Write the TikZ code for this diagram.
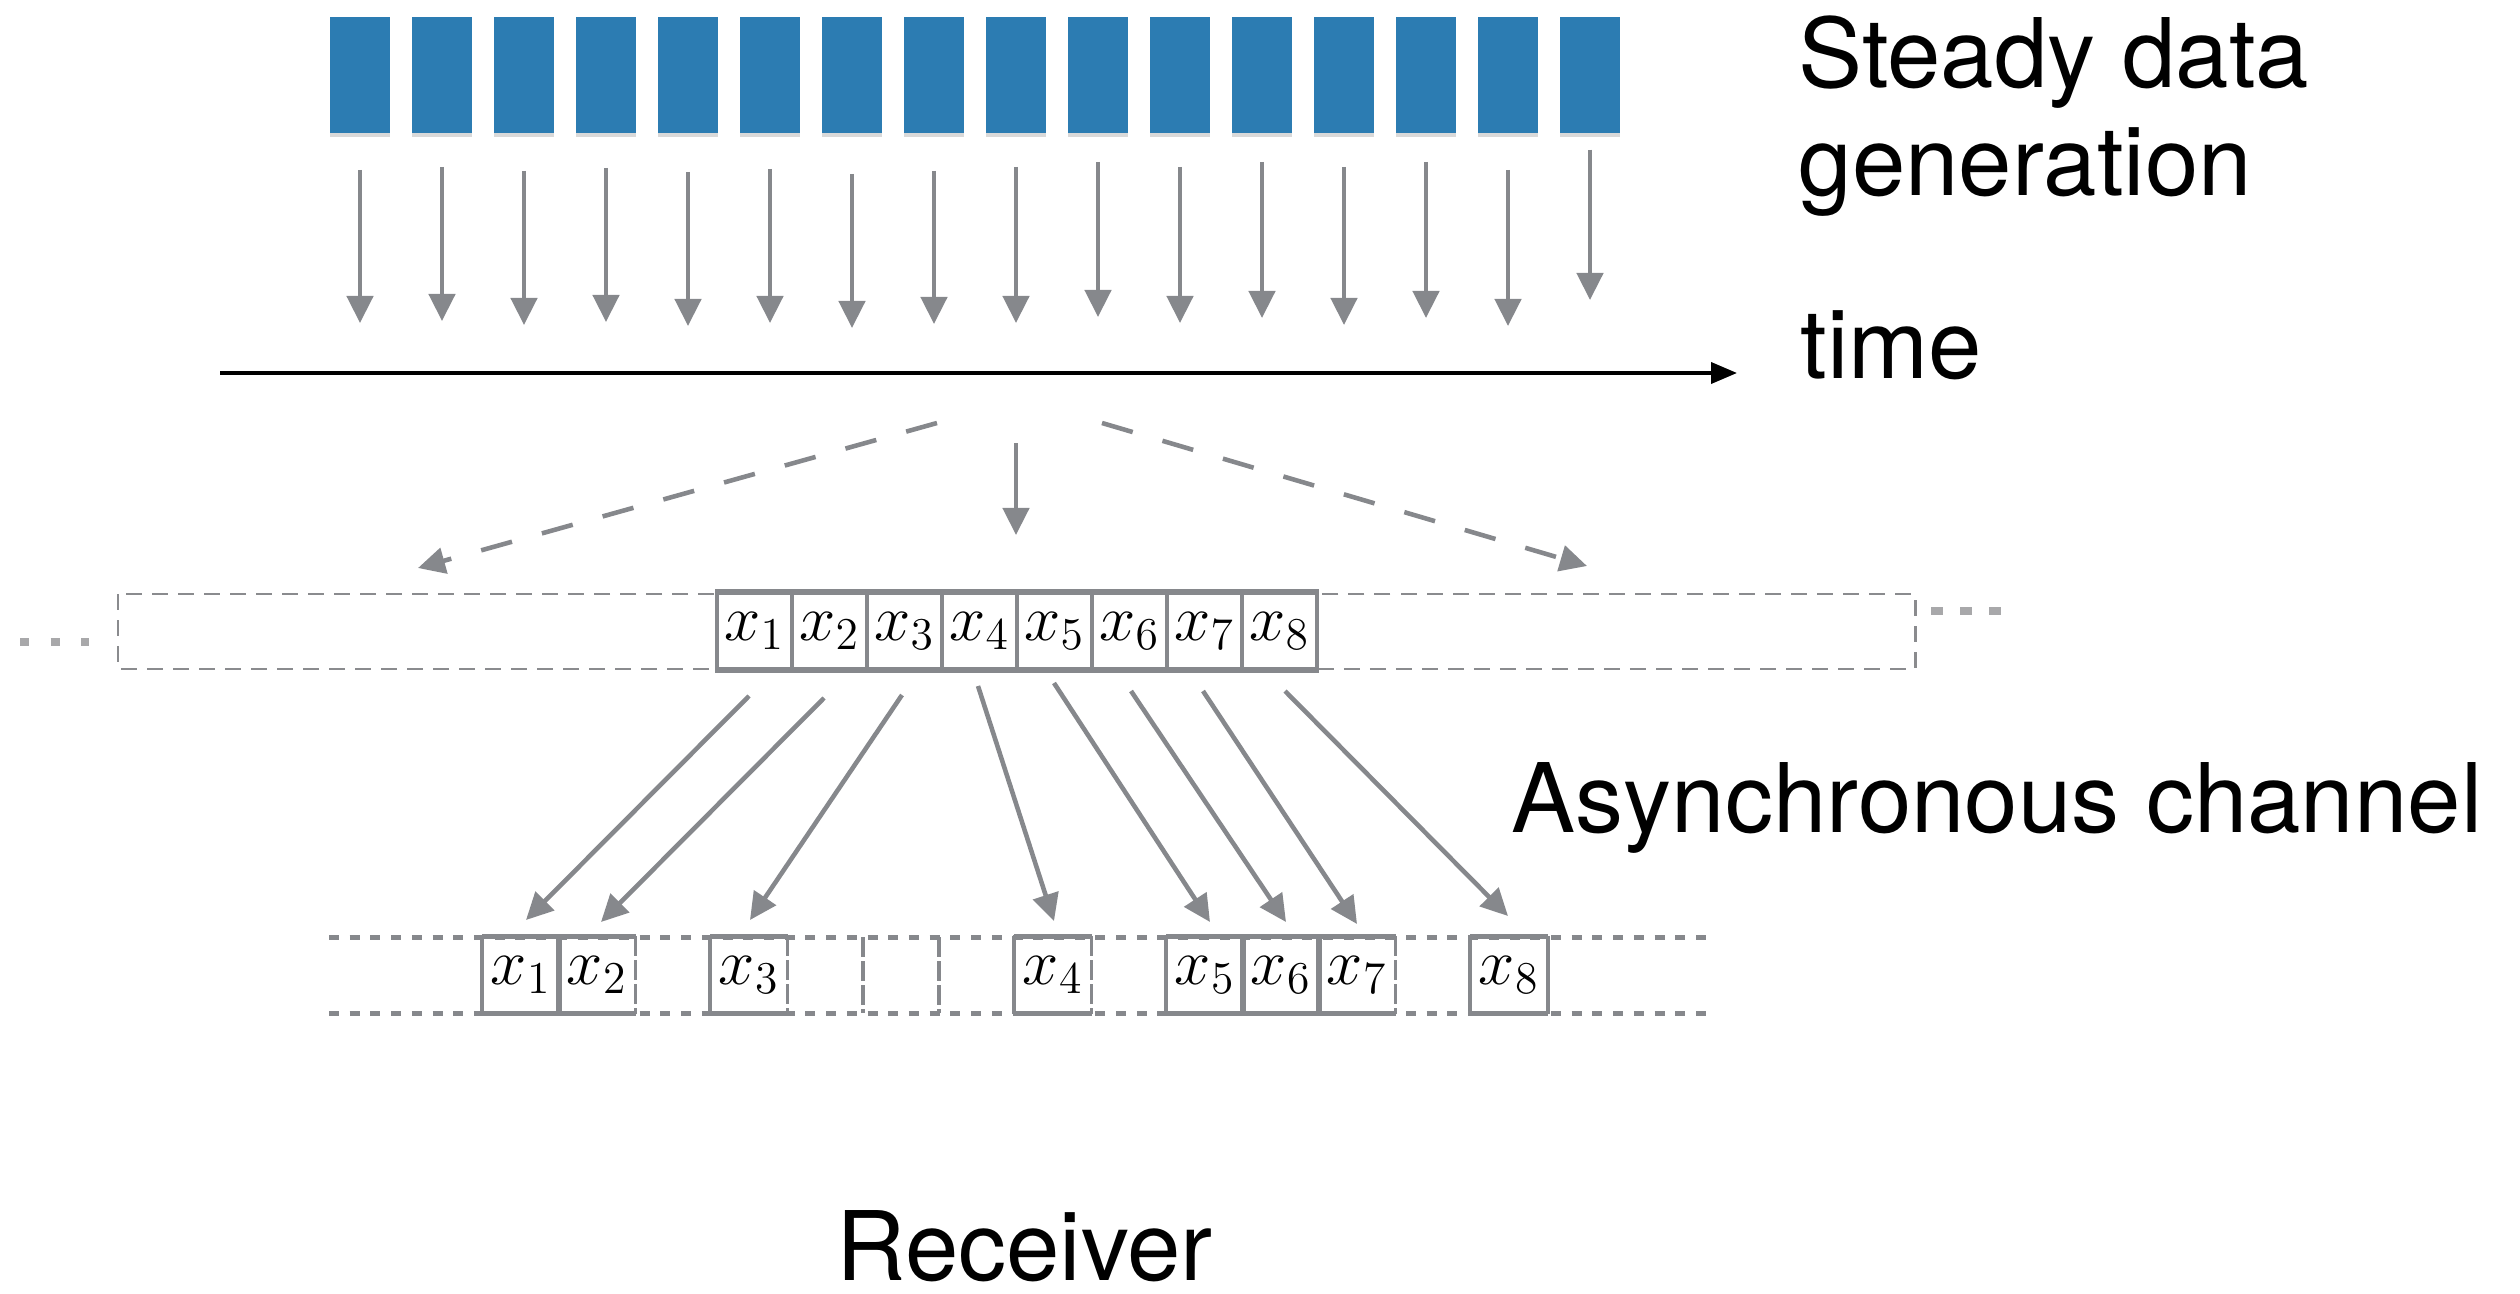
\RequirePackage{fix-cm}
\documentclass[tikz,border=0pt]{standalone}
\usepackage{fontspec}
\setmainfont{TeX Gyre Heros}
\usetikzlibrary{arrows.meta,shadows}
\definecolor{gblue}{RGB}{44,124,178}
\definecolor{agray}{RGB}{134,136,140}
\definecolor{dgray}{RGB}{138,139,142}
\definecolor{ltgray}{RGB}{168,168,170}
\tikzset{
  bluebox/.style={fill=gblue, minimum width=0.60cm, minimum height=1.16cm, inner sep=0pt,
    drop shadow={shadow xshift=0cm, shadow yshift=-0.04cm, opacity=0.15, fill=black}},
  garrow/.style={draw=agray, line width=1.3pt, -{Triangle[width=0.26cm,length=0.27cm]}},
  gdash/.style={garrow, dash pattern=on 0.32cm off 0.31cm},
  ucell/.style={draw=agray, line width=1.1pt, minimum width=0.75cm, minimum height=0.76cm,
    inner sep=0pt, fill=white, font=\fontsize{18.5}{20}\selectfont},
  lslot/.style={minimum width=0.76cm, minimum height=0.76cm, inner sep=0pt,
    font=\fontsize{18.5}{20}\selectfont},
  bigtext/.style={inner sep=0pt, anchor=base west, font=\fontsize{27.3}{30.7}\selectfont},
  boxv/.style={draw=agray, line width=1.1pt},
  boxh/.style={draw=agray, line width=1.4pt},
  dotline/.style={draw=agray, line width=0.05cm, dash pattern=on 0.1cm off 0.107cm},
  slotdash/.style={draw=agray, line width=0.9pt, dash pattern=on 0.2cm off 0.04cm}
}
\begin{document}
\begin{tikzpicture}[x=0.01cm, y=-0.01cm]
\useasboundingbox (0,0) rectangle (2520,1294);

% steady data generation
\foreach \i in {1,...,16}
  \node[bluebox] (b\i) at ({360+82*(\i-1)},75) {};
\foreach \i/\s/\h in {1/36/323, 2/33/321, 3/37/325, 4/34/322, 5/38/326, 6/35/323,
                      7/40/328, 8/37/324, 9/33/323, 10/28/317, 11/33/323, 12/28/318,
                      13/33/325, 14/28/318, 15/36/326, 16/16/300} {
  \coordinate (d\i) at (b\i.south |- 0,\h);
  \draw[garrow, shorten <=0.\s cm] (b\i.south) -- (d\i);
}

% time axis
\coordinate (ax0) at (220,373);
\coordinate (ax1) at (1737,373);
\draw[line width=1.1pt, -{Triangle[width=0.21cm,length=0.26cm]}] (ax0) -- (ax1);

% labels
\node[bigtext] (steady) at (1798,88) {Steady data};
\node[bigtext] (gen) at (1798,196) {generation};
\node[bigtext] (time) at (1800,378) {time};
\node[bigtext] (async) at (1511,832) {Asynchronous channel};
\node[bigtext] (recv) at (836,1280) {Receiver};

% arrows from axis to window
\coordinate (dl0) at (937,423);  \coordinate (dl1) at (418,568);
\coordinate (dr0) at (1102,423); \coordinate (dr1) at (1587,566);
\coordinate (m0) at (1016,443);  \coordinate (m1) at (1016,535);
\draw[gdash] (dl0) -- (dl1);
\draw[gdash] (dr0) -- (dr1);
\draw[garrow] (m0) -- (m1);

% dashed sliding window
\draw[dgray, line width=0.85pt, dash pattern=on 0.16cm off 0.1cm] (118,594) rectangle (1915,669);
\draw[ltgray, line width=0.08cm, dash pattern=on 0.09cm off 0.215cm] (20,642) -- (89,642);
\draw[ltgray, line width=0.08cm, dash pattern=on 0.12cm off 0.17cm] (1931,611) -- (2003,611);

% sent block
\foreach \i in {1,...,8}
  \node[ucell] (u\i) at ({754.5+75*(\i-1)},631) {$x_{\i}$};
\draw[boxh] (u1.north west) -- (u8.north east);
\draw[boxh] (u1.south west) -- (u8.south east);

% receiver slots
\draw[dotline] (329,937) -- (1711,937);
\draw[dotline] (329,1013) -- (1711,1013);
\foreach \i/\k in {1/0,2/1,3/3,4/7,5/9,6/10,7/11,8/13}
  \node[lslot] (l\i) at ({521+76*\k},975) {$x_{\i}$};
\foreach \i in {1,...,8} {
  \draw[boxv] (l\i.south west) -- (l\i.north west);
  \draw[boxh] (l\i.north west) -- (l\i.north east);
  \draw[boxh] (l\i.south west) -- (l\i.south east);
}
\foreach \i in {1,5,6,8}
  \draw[boxv] (l\i.north east) -- (l\i.south east);
\foreach \i in {2,3,4,7}
  \draw[slotdash] (l\i.north east) -- (l\i.south east);
\draw[slotdash] (863,937) -- (863,1013);
\draw[slotdash] (939,937) -- (939,1013);

% asynchronous channel arrows
\foreach \i/\ax/\ay/\bx/\by in {1/749/696/526/920, 2/824/698/601/922, 3/902/695/750/920,
    4/978/686/1054/921, 5/1054/683/1210/922, 6/1131/691/1286/922,
    7/1203/691/1357/924, 8/1285/691/1508/916} {
  \coordinate (cs\i) at (\ax,\ay);
  \coordinate (ct\i) at (\bx,\by);
  \draw[garrow] (cs\i) -- (ct\i);
}
\end{tikzpicture}
\end{document}
